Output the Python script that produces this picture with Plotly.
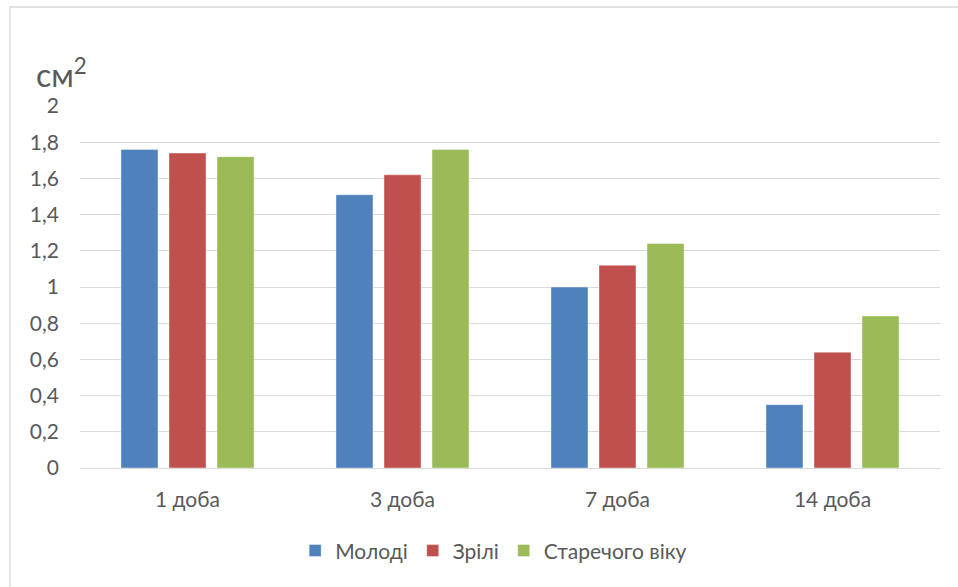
import plotly.graph_objects as go

# Days after the start of observation
categories = ["1 доба", "3 доба", "7 доба", "14 доба"]

# Area, cm²
young = [1.76, 1.51, 1.00, 0.35]
mature = [1.74, 1.62, 1.12, 0.64]
elderly = [1.72, 1.76, 1.24, 0.84]

series_names = ["Молоді", "Зрілі", "Старечого віку"]
series_colors = ["#4F81BD", "#C0504D", "#9BBB59"]

tick_vals = [0, 0.2, 0.4, 0.6, 0.8, 1.0, 1.2, 1.4, 1.6, 1.8, 2.0]
tick_text = ["0", "0,2", "0,4", "0,6", "0,8", "1", "1,2", "1,4", "1,6", "1,8", "2"]

FONT = "Lato, 'Open Sans', sans-serif"
TEXT = "#595959"

fig = go.Figure()
for name, vals, col in zip(series_names, [young, mature, elderly], series_colors):
    fig.add_trace(go.Bar(
        x=categories, y=vals, name=name,
        marker=dict(color=col, line=dict(color="rgba(255,255,255,0.5)", width=0.8)),
    ))

fig.update_layout(
    width=958, height=587,
    margin=dict(l=80, r=18, t=106, b=119),
    paper_bgcolor="white", plot_bgcolor="white",
    barmode="group", bargap=0.33, bargroupgap=0.229,
    font=dict(family=FONT, color=TEXT, size=21),
    xaxis=dict(showgrid=False, showline=False, ticks="", ticklabelstandoff=17,
               tickfont=dict(size=21, color=TEXT, family=FONT)),
    yaxis=dict(range=[0, 2], tickvals=tick_vals, ticktext=tick_text,
               showgrid=True, gridcolor="#D9D9D9", gridwidth=1,
               zeroline=True, zerolinecolor="#D9D9D9", zerolinewidth=1,
               showline=False, ticks="", ticklabelstandoff=20,
               tickfont=dict(size=21, color=TEXT, family=FONT)),
    legend=dict(orientation="h", x=0.481, xanchor="center", y=-0.229, yanchor="middle",
                font=dict(size=21, color=TEXT, family=FONT),
                itemwidth=30, tracegroupgap=0),
    showlegend=True,
)

# Unit label above the value axis
fig.add_annotation(text="см<sup>2</sup>", xref="paper", yref="paper",
                   x=-0.021, y=1.09, xanchor="center", yanchor="middle",
                   showarrow=False, font=dict(size=32, color=TEXT, family=FONT))

# Light frame around the chart area (top and left edges visible)
fig.add_shape(type="rect", xref="paper", yref="paper",
              x0=-0.0814, x1=1.2, y0=-0.5, y1=1.2735,
              line=dict(color="#D9D9D9", width=1.3), fillcolor="rgba(0,0,0,0)")

fig.write_html("out.html")
